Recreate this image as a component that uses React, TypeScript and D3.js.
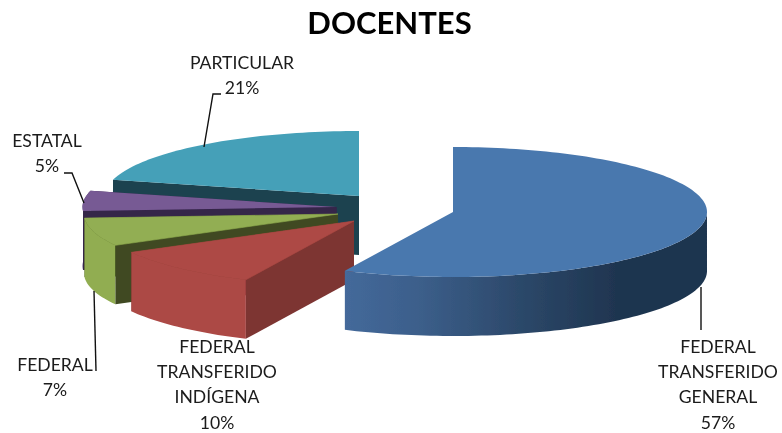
import React from "react";
import * as d3 from "d3";

const title = "DOCENTES";
const categories = ["FEDERAL TRANSFERIDO GENERAL", "FEDERAL TRANSFERIDO INDÍGENA", "FEDERAL", "ESTATAL", "PARTICULAR"];
const shares = [57, 10, 7, 5, 21];
const labelLines = [
  ["FEDERAL", "TRANSFERIDO", "GENERAL"],
  ["FEDERAL", "TRANSFERIDO", "INDÍGENA"],
  ["FEDERAL"],
  ["ESTATAL"],
  ["PARTICULAR"],
];
const topColors = ["#4a78ae", "#ad4945", "#92ae52", "#775a94", "#44a0b8"];
const cutColors = ["#1f3550", "#7d3432", "#3f4a20", "#35254a", "#1d4350"];
const rimColors = ["url(#blueRim)", "#ac4845", "#91ad51", "#5f4a7c", "#3a8a9f"];

// layout
const W = 782, H = 433;
const RX = 254, RY = 65, DEPTH = 59;
const apexes: [number, number][] = [[453, 212], [354, 221], [338, 214], [336.5, 207], [359, 196]];
const labelAnchors: [number, number][] = [[718, 353], [217, 353], [55, 371], [47, 147], [242, 69]];
const leaders: [number, number][][] = [
  [[701, 287], [701, 330]],
  [],
  [[94, 291], [96, 371]],
  [[84, 203], [72, 173], [64, 173]],
  [[204, 147], [213, 94], [221, 94]],
];
const LINE_H = 25.2;

const pieGen = d3.pie<number>().sort(null).value((d) => d);
const arcs = pieGen(shares);
const xs = d3.scaleLinear().domain([-1, 1]).range([-RX, RX]);
const ys = d3.scaleLinear().domain([-1, 1]).range([-RY, RY]);
const line = d3.line<[number, number]>().x((d) => d[0]).y((d) => d[1]);

function rimPoints(i: number, drop = 0): [number, number][] {
  const { startAngle, endAngle } = arcs[i];
  const n = Math.max(8, Math.round((endAngle - startAngle) * 40));
  return d3.range(n + 1).map((k) => {
    const a = startAngle + ((endAngle - startAngle) * k) / n;
    return [apexes[i][0] + xs(Math.sin(a)), apexes[i][1] + ys(-Math.cos(a)) + drop] as [number, number];
  });
}

function Slice({ i }: { i: number }) {
  const apex = apexes[i];
  const rim = rimPoints(i);
  const first = rim[0];
  const last = rim[rim.length - 1];
  const below = (p: [number, number]): [number, number] => [p[0], p[1] + DEPTH];
  const startCut = line([apex, first, below(first), below(apex)])!;
  const endCut = line([apex, last, below(last), below(apex)])!;
  const front = rim.filter((p) => p[1] >= apex[1] - 0.001 || i === 3 || i === 4);
  const wall = line([...front, ...front.slice().reverse().map(below)])!;
  const top = line([apex, ...rim])! + "Z";
  const seamless = i === 1 || i === 2;
  return (
    <g>
      {i > 0 && i !== 4 && <path d={endCut} fill={cutColors[i]} />}
      {i === 4 && <path d={startCut} fill={cutColors[i]} />}
      {i !== 4 && <path d={wall + "Z"} fill={rimColors[i]} />}
      {i > 0 && i !== 4 && <path d={startCut} fill={cutColors[i]} />}
      <path d={top} fill={topColors[i]} stroke={seamless ? topColors[i] : "none"} strokeWidth={seamless ? 0.6 : 0} />
    </g>
  );
}

export default function App() {
  const font = "Lato, Carlito, sans-serif";
  const drawOrder = [4, 3, 2, 1, 0];
  return (
    <svg
      width={W}
      height={H}
      viewBox={`0 0 ${W} ${H}`}
      style={{ position: "absolute", left: 0, top: 0, background: "#fff" }}
    >
      <defs>
        <linearGradient id="blueRim" gradientUnits="userSpaceOnUse" x1={345} x2={707} y1={0} y2={0}>
          <stop offset="0" stopColor="#44699a" />
          <stop offset="0.2" stopColor="#3c5f8b" />
          <stop offset="0.5" stopColor="#2b4768" />
          <stop offset="0.75" stopColor="#1f3550" />
          <stop offset="1" stopColor="#1f3550" />
        </linearGradient>
        <filter id="soft" x="-5%" y="-5%" width="110%" height="110%">
          <feGaussianBlur stdDeviation="0.45" />
        </filter>
        <filter id="softText" x="-5%" y="-5%" width="110%" height="110%">
          <feGaussianBlur stdDeviation="0.3" />
        </filter>
      </defs>
      <g filter="url(#soft)">
        {drawOrder.map((i) => (
          <Slice key={categories[i]} i={i} />
        ))}
      </g>
      <g fill="none" stroke="#111" strokeWidth={1.4}>
        {leaders.map((pts, i) => pts.length > 0 && <path key={i} d={line(pts)!} />)}
      </g>
      <g filter="url(#softText)">
        <text x={389.5} y={34} textAnchor="middle" fontFamily={font} fontWeight={700} fontSize={31} fill="#000">
          {title}
        </text>
        <g fontFamily={font} fontSize={17.6} fill="#1a1a1a" textAnchor="middle">
          {labelLines.map((lines, i) => (
            <g key={categories[i]}>
              {[...lines, `${shares[i]}%`].map((t, k) => (
                <text key={k} x={labelAnchors[i][0]} y={labelAnchors[i][1] + k * LINE_H}>
                  {t}
                </text>
              ))}
            </g>
          ))}
        </g>
      </g>
    </svg>
  );
}
